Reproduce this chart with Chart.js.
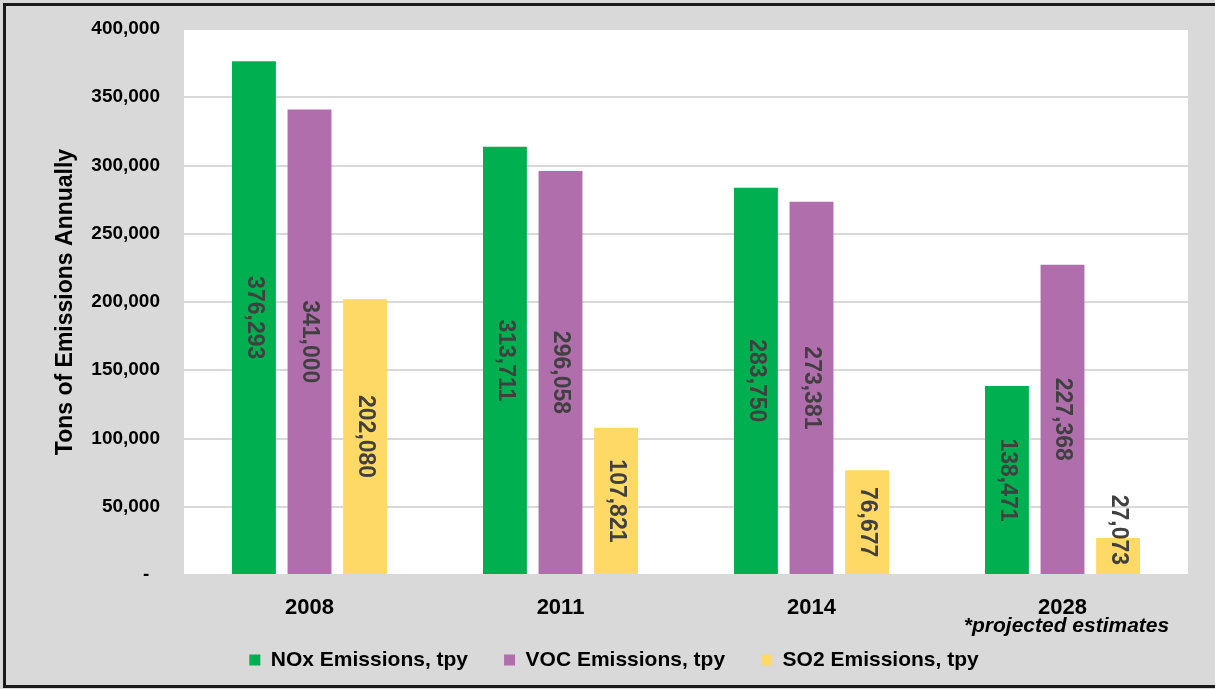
<!DOCTYPE html>
<html>
<head>
<meta charset="utf-8">
<script src="https://cdn.jsdelivr.net/npm/chart.js@4.4.1/dist/chart.umd.min.js"></script>
<style>
  html, body { margin: 0; padding: 0; background: #d9d9d9; }
  #wrap { position: relative; width: 1215px; height: 689px; }
  canvas { display: block; }
</style>
</head>
<body>
<div id="wrap"><canvas id="c" width="1215" height="689"></canvas></div>
<script>
const categories = ['2008', '2011', '2014', '2028'];
const noxValues = [376293, 313711, 283750, 138471];
const vocValues = [341000, 296058, 273381, 227368];
const so2Values = [202080, 107821, 76677, 27073];
const seriesNames = ['NOx Emissions, tpy', 'VOC Emissions, tpy', 'SO2 Emissions, tpy'];
const yTicks = [0, 50000, 100000, 150000, 200000, 250000, 300000, 350000, 400000];
const axisTitle = 'Tons of Emissions Annually';
const footnote = '*projected estimates';
const footnoteCategory = '2028';

const FONT = '"Liberation Sans", Arial, sans-serif';
const fmt = v => v.toLocaleString('en-US');

const bgPlugin = {
  id: 'bg',
  afterLayout(chart) {
    const lg = chart.legend;
    if (lg) {
      lg.left += 20; lg.right += 20;
      lg.top -= 8.5; lg.bottom -= 8.5;
    }
  },
  beforeDraw(chart) {
    const ctx = chart.ctx, a = chart.chartArea;
    ctx.save();
    ctx.fillStyle = '#d9d9d9';
    ctx.fillRect(0, 0, chart.width, chart.height);
    ctx.fillStyle = '#ffffff';
    ctx.fillRect(a.left, a.top, a.right - a.left, a.bottom - a.top);
    ctx.strokeStyle = '#1a1a1a';
    ctx.lineWidth = 3;
    ctx.strokeRect(4.5, 4.5, chart.width + 10, chart.height - 7);
    ctx.restore();
  }
};

const labelPlugin = {
  id: 'barLabels',
  afterDatasetsDraw(chart) {
    const ctx = chart.ctx, area = chart.chartArea;
    ctx.save();
    ctx.font = 'bold 23px ' + FONT;
    ctx.fillStyle = '#404040';
    ctx.textAlign = 'center';
    ctx.textBaseline = 'middle';
    chart.data.datasets.forEach((ds, di) => {
      const meta = chart.getDatasetMeta(di);
      meta.data.forEach((el, i) => {
        const txt = fmt(ds.data[i]);
        const half = ctx.measureText(txt).width / 2;
        let cy = (el.y + el.base) / 2;
        const maxCy = area.bottom - 10 - half;
        if (cy > maxCy) cy = maxCy;
        ctx.save();
        ctx.translate(el.x, cy);
        ctx.rotate(Math.PI / 2);
        ctx.fillText(txt, 0, 0);
        ctx.restore();
      });
    });
    const xs = chart.scales.x;
    const idx = categories.indexOf(footnoteCategory);
    ctx.font = 'italic bold 21px ' + FONT;
    ctx.fillStyle = '#000000';
    ctx.textAlign = 'center';
    ctx.fillText(footnote, xs.getPixelForValue(idx) + 4, 626);
    ctx.restore();
  }
};

new Chart(document.getElementById('c'), {
  type: 'bar',
  data: {
    labels: categories,
    datasets: [
      { label: seriesNames[0], data: noxValues, backgroundColor: '#00b050' },
      { label: seriesNames[1], data: vocValues, backgroundColor: '#b06eac' },
      { label: seriesNames[2], data: so2Values, backgroundColor: '#ffd966' }
    ]
  },
  options: {
    responsive: false,
    animation: false,
    devicePixelRatio: 1,
    layout: { padding: { left: 0, right: 27, top: 29, bottom: 0 } },
    datasets: { bar: { categoryPercentage: 0.664, barPercentage: 0.79 } },
    plugins: {
      legend: {
        position: 'bottom',
        labels: {
          boxWidth: 11, boxHeight: 11, padding: 36,
          color: '#000000',
          font: { family: FONT, size: 21, weight: 'bold' }
        }
      },
      tooltip: { enabled: false }
    },
    scales: {
      x: {
        grid: { display: false, drawTicks: false },
        border: { display: false },
        ticks: { color: '#000000', padding: 20, font: { family: FONT, size: 22, weight: 'bold' } },
        afterFit(s) { s.height = 47; }
      },
      y: {
        min: 0, max: 400000,
        afterBuildTicks(s) { s.ticks = yTicks.map(v => ({ value: v })); },
        grid: { color: '#d9d9d9', lineWidth: 2, drawTicks: false },
        border: { display: false },
        ticks: {
          color: '#000000', padding: 24,
          font: { family: FONT, size: 19, weight: 'bold' },
          callback: v => v === 0 ? '-  ' : fmt(v)
        },
        title: {
          display: true, text: axisTitle, color: '#000000',
          padding: { top: 52, bottom: 0 },
          font: { family: FONT, size: 23, weight: 'bold' }
        },
        afterFit(s) { s.width = 184; s.paddingTop = 0; s.paddingBottom = 0; }
      }
    }
  },
  plugins: [bgPlugin, labelPlugin]
});
</script>
</body>
</html>
